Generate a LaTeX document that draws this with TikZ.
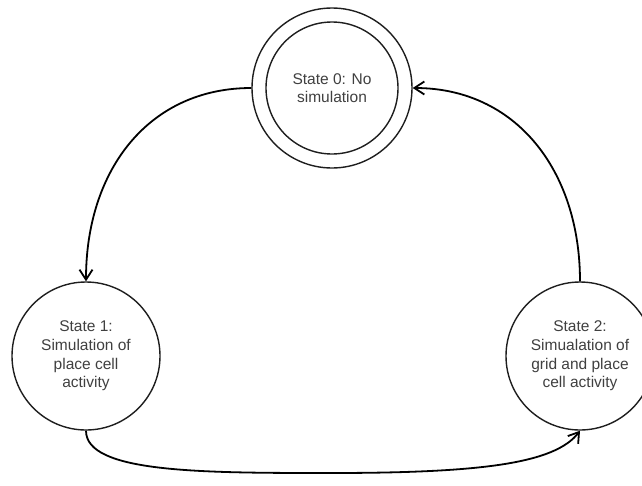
\documentclass[tikz,border=0pt]{standalone}
\usepackage{fontspec}
\setmainfont{Liberation Sans}
\usetikzlibrary{arrows.meta}
\definecolor{txtgray}{RGB}{64,64,64}
\definecolor{linecol}{RGB}{30,30,30}
\begin{document}
\begin{tikzpicture}[x=1pt,y=-1pt,
  statebox/.style={circle, draw=linecol, line width=1.4pt, align=center, text=txtgray,
    font=\fontsize{15.5}{18.6}\selectfont, inner sep=0pt},
  edge/.style={draw=black, line width=1.8pt, -{Straight Barb[length=10pt,width=13pt]}}]
\clip (0,0) rectangle (642,485);
\fill[white] (0,0) rectangle (642,485);
\node[statebox, minimum size=132pt] (s0in) at (332,88) {State 0: No\\simulation};
\node[statebox, minimum size=160pt] (s0) at (332,88) {};
\node[statebox, minimum size=148pt] (s1) at (86,356) {State 1:\\Simulation of\\place cell\\activity};
\node[statebox, minimum size=148pt] (s2) at (580,356) {State 2:\\Simualation of\\grid and place\\cell activity};
\coordinate (bot) at (330,473);
\draw[edge] (s0.west) .. controls +(-102,0) and +(0,-112) .. (s1.north);
\draw[edge] (s2.north) .. controls +(0,-111) and +(103,0) .. (s0.east);
\draw[edge] (s1.south) .. controls +(0,42) and +(-130,0) .. (bot)
  .. controls +(150,0) and +(-25,33) .. (s2.south);
\end{tikzpicture}
\end{document}
